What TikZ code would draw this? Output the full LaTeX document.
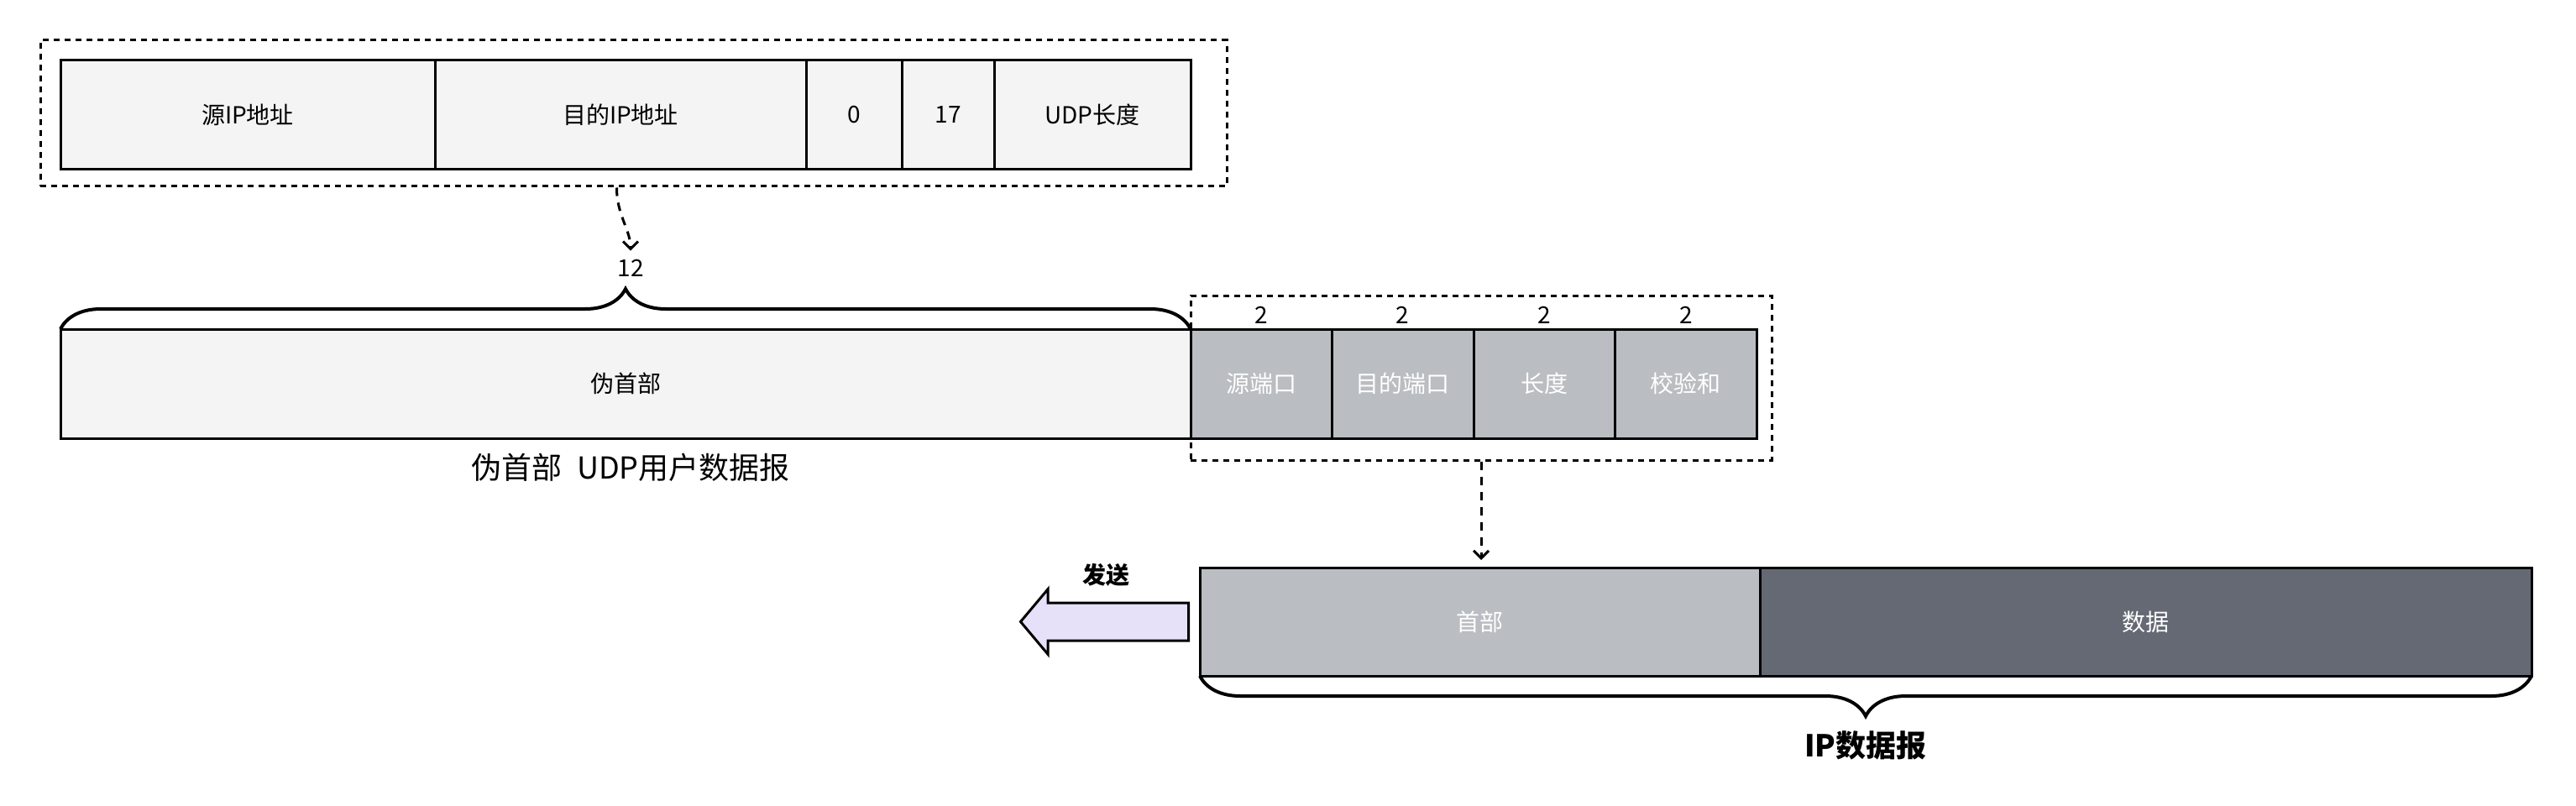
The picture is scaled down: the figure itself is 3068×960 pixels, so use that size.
\documentclass[tikz,border=0pt]{standalone}
\usepackage{fontspec}
\setmainfont{Noto Sans CJK SC}
\usetikzlibrary{positioning,fit,arrows.meta,decorations.pathreplacing,shapes.arrows}

\definecolor{pseudobg}{HTML}{F4F4F4}
\definecolor{headbg}{HTML}{BABDC1}
\definecolor{databg}{HTML}{646974}
\definecolor{sendbg}{HTML}{E6E0F8}

\tikzset{
  field/.style={draw=black, line width=3pt, minimum height=130pt, inner sep=0pt, outer sep=0pt,
    anchor=north west, font=\fontsize{28}{32}\selectfont},
  pseudofield/.style={field, fill=pseudobg},
  udpfield/.style={field, fill=headbg, text=white},
  group/.style={draw=black, line width=3pt, dash pattern=on 7pt off 6pt, inner sep=0pt},
  flow/.style={draw=black, line width=3pt, dash pattern=on 10pt off 8pt,
    -{Straight Barb[length=9pt,width=18pt,line width=3pt]}},
  bracket/.style={line width=4pt, decorate, decoration={brace, amplitude=48pt}},
  note/.style={font=\fontsize{28}{32}\selectfont, inner sep=2pt},
}

\begin{document}
\begin{tikzpicture}[x=1pt, y=-1pt]
  \useasboundingbox (0,0) rectangle (3068,960);
  \def\udpwidth{168.5}

  % Pseudo header fields
  \node[pseudofield, minimum width=446pt] (src) at (72,72) {源IP地址};
  \node[pseudofield, minimum width=442pt, right=0pt of src] (dst) {目的IP地址};
  \node[pseudofield, minimum width=114pt, right=0pt of dst] (zero) {0};
  \node[pseudofield, minimum width=110pt, right=0pt of zero] (proto) {17};
  \node[pseudofield, minimum width=234pt, right=0pt of proto] (ulen) {UDP长度};
  \node[group, fit={(48,48) (1461,222)}] (pseudogrp) {};

  % UDP datagram
  \node[pseudofield, minimum width=1346pt] (phdr) at (72,392) {伪首部};
  \foreach \i/\txt in {1/源端口,2/目的端口,3/长度,4/校验和} {
      \node[udpfield, minimum width=\udpwidth pt] (u\i) at ({1418+(\i-1)*\udpwidth},392) {\txt};
      \node[note] (s\i) at ([yshift=17pt]u\i.north) {2};
    }
  \node[group, fit={(1418,352) (2110,548)}] (udpgrp) {};

  \draw[bracket] (phdr.north west) -- (phdr.north east);
  \node[note] (len) at (751,319) {12};
  \node[font=\fontsize{36}{40}\selectfont] (udpcap) at (751,557) {伪首部\hspace{0.5em}UDP用户数据报};

  \draw[flow, shorten >=8pt] ([xshift=-20pt]pseudogrp.south) to[out=-90, in=90] (len.north);

  % IP datagram
  \node[field, fill=headbg, text=white, minimum width=667pt, minimum height=129pt] (iphead) at (1429,676) {首部};
  \node[field, fill=databg, text=white, minimum width=919pt, minimum height=129pt, right=0pt of iphead] (ipdata) {数据};
  \draw[bracket, decoration={brace, mirror, amplitude=48pt}] (iphead.south west) -- (ipdata.south east);
  \node[font=\bfseries\fontsize{36}{40}\selectfont] (ipcap) at (2222,888) {IP数据报};

  \draw[flow, shorten >=9pt] (udpgrp.south) -- (udpgrp.south |- iphead.north);

  % Send arrow
  \node[single arrow, shape border rotate=180, draw=black, line width=3pt, fill=sendbg,
    minimum height=200pt, minimum width=75pt, single arrow head extend=16.5pt,
    single arrow tip angle=100, inner xsep=0pt, inner ysep=21pt, anchor=tail] (send) at ([xshift=-12pt]iphead.west) {};
  \node[font=\bfseries\fontsize{28}{30}\selectfont] (sendtxt) at (1317,685) {发送};

\end{tikzpicture}
\end{document}
